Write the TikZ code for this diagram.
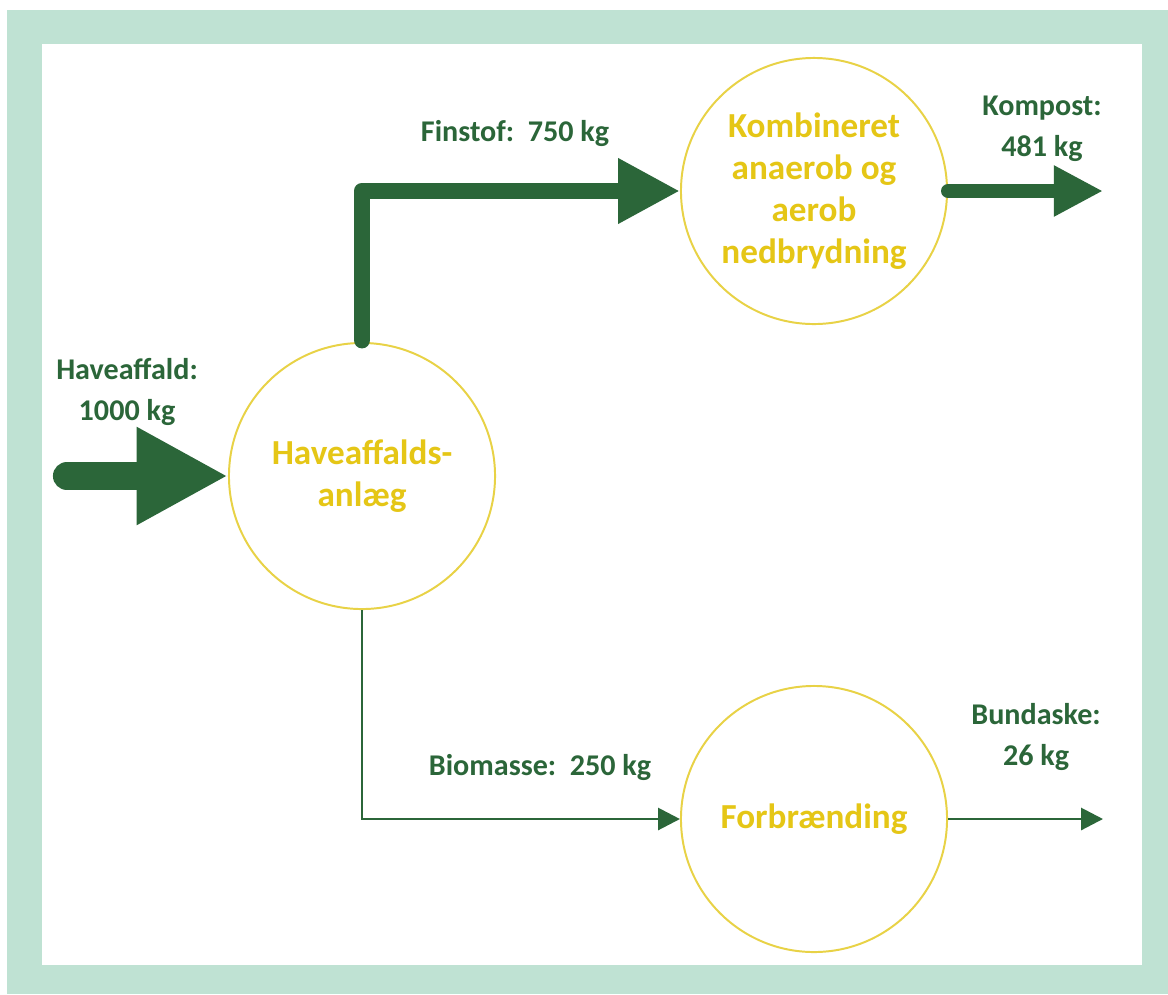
\documentclass[tikz,border=0pt]{standalone}
\usepackage{fontspec}
\setmainfont{Carlito}
\usetikzlibrary{arrows.meta}

\definecolor{flowgreen}{RGB}{43,102,57}
\definecolor{procyellow}{RGB}{229,198,22}
\definecolor{ringyellow}{RGB}{232,210,70}
\definecolor{framegreen}{RGB}{191,226,211}

\tikzset{
  process/.style={circle, draw=ringyellow, line width=1.4pt, fill=white,
    minimum size=6.65cm, inner sep=0pt, align=center, text=procyellow,
    font=\fontsize{25}{30}\selectfont\bfseries},
  flowlabel/.style={align=center, text=flowgreen, inner sep=0pt,
    font=\fontsize{21.4}{29}\selectfont\bfseries},
  flow/.style={draw=flowgreen, line cap=round, line join=round},
  bigflow/.style={flow, line width=20pt, -{Triangle[width=65pt,length=65pt]}},
  midflow/.style={flow, line width=12pt, -{Triangle[width=43.5pt,length=44pt]}},
  smallflow/.style={flow, line width=10pt, -{Triangle[width=34pt,length=35pt]}},
  thinflow/.style={flow, line width=2.1pt, line cap=butt, line join=miter,
    -{Triangle[width=15.5pt,length=15.5pt]}}
}

\begin{document}
\begin{tikzpicture}[x=0.025cm, y=-0.025cm]
  % page, frame and white panel
  \useasboundingbox (0,0) rectangle (1168,994);
  \fill[white] (0,0) rectangle (1168,994);
  \fill[framegreen] (7,10) rectangle (1168,994);
  \fill[white] (42,44) rectangle (1142,965);

  % process circles
  \node[process] (plant) at (362,476) {Haveaffalds-\\anlæg};
  \node[process] (digest) at (814,191) {Kombineret\\anaerob og\\aerob\\nedbrydning};
  \node[process] (burn) at (814,819) {Forbrænding};

  % free ends of the flows
  \coordinate (inlet) at (67,476);
  \coordinate (compostout) at (1103,191);
  \coordinate (ashout) at (1103,819);

  % flows
  \draw[bigflow] (inlet) -- (plant.west);
  \draw[midflow] ([yshift=0.05cm]plant.north) |- (digest.west);
  \draw[smallflow] (digest.east) -- (compostout);
  \draw[thinflow] (plant.south) |- (burn.west);
  \draw[thinflow] (burn.east) -- (ashout);

  % flow labels
  \node[flowlabel] (lin) at (127,392) {Haveaffald:\\1000 kg};
  \node[flowlabel] (lfin) at (515,133) {Finstof:\ \ 750 kg};
  \node[flowlabel] (lcomp) at (1042,129) {Kompost:\\481 kg};
  \node[flowlabel] (lbio) at (540,767) {Biomasse:\ \ 250 kg};
  \node[flowlabel] (lash) at (1036,737) {Bundaske:\\26 kg};
\end{tikzpicture}
\end{document}
